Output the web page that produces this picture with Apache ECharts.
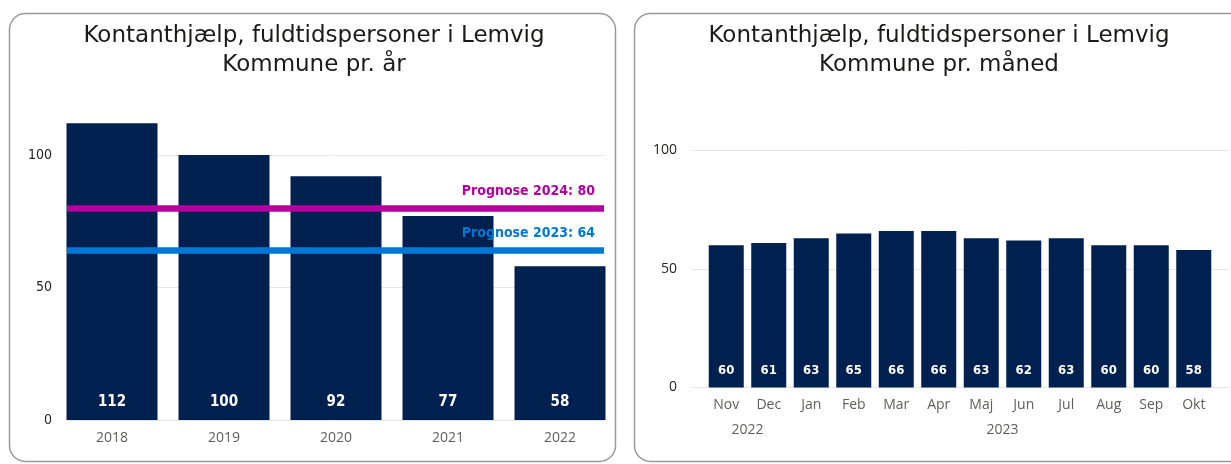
<!DOCTYPE html>
<html><head><meta charset="utf-8">
<script src="https://cdn.jsdelivr.net/npm/echarts@6/dist/echarts.min.js"></script>
<style>html,body{margin:0;padding:0;background:#fff}#c{width:1231px;height:464px}</style>
</head><body><div id="c"></div>
<script>
// ---- data ----
const yearCats = ['2018', '2019', '2020', '2021', '2022'];
const yearVals = [112, 100, 92, 77, 58];
const monthCats = ['Nov', 'Dec', 'Jan', 'Feb', 'Mar', 'Apr', 'Maj', 'Jun', 'Jul', 'Aug', 'Sep', 'Okt'];
const monthVals = [60, 61, 63, 65, 66, 66, 63, 62, 63, 60, 60, 58];
const monthYearLabels = ['2022', '2023'];
const monthYearCenters = [1, 7]; // centre of Nov–Dec and Jan–Okt (category units)
const prognoseLabels = ['Prognose 2024: 80', 'Prognose 2023: 64'];
const prognoseVals = [80, 64];
const yTicks = [0, 50, 100];
const titleLeft = 'Kontanthjælp, fuldtidspersoner i Lemvig\nKommune pr. år';
const titleRight = 'Kontanthjælp, fuldtidspersoner i Lemvig\nKommune pr. måned';

// ---- styles ----
const NAVY = '#00204F';
const MAGENTA = '#B4009E';
const BLUE = '#0078D4';
const COND = '"DejaVu Sans Condensed", "DejaVu Sans", sans-serif';
const TITLE_FONT = '"DejaVu Sans", sans-serif';
const SANS = '"Open Sans", "Noto Sans", sans-serif';
const GRID_C = '#E6E6E6';
const prognoseColors = [MAGENTA, BLUE];

const chart = echarts.init(document.getElementById('c'), null, {renderer: 'canvas'});

const yFmt = v => (yTicks.indexOf(v) >= 0 ? String(v) : '');

function bgYAxis(gridIndex) {
  return {
    type: 'value', gridIndex, min: 0, max: 120, interval: 50,
    axisLine: {show: false}, axisTick: {show: false},
    axisLabel: {formatter: yFmt, color: '#252423', fontSize: 14, fontFamily: gridIndex === 0 ? COND : SANS, margin: 15, showMaxLabel: false},
    splitLine: {show: true, lineStyle: {color: [GRID_C, GRID_C, GRID_C, 'rgba(0,0,0,0)'], width: 1}}
  };
}
function hiddenY(gridIndex) {
  return {type: 'value', gridIndex, min: 0, max: 120, interval: 50, show: false, splitLine: {show: false}};
}

const option = {
  animation: false,
  backgroundColor: '#fff',
  graphic: [
    {type: 'rect', left: 7, top: 11, shape: {width: 606, height: 448, r: 16}, style: {fill: 'none', stroke: '#9A9A9A', lineWidth: 1.5}, z: -1},
    {type: 'rect', left: 632, top: 11, shape: {width: 640, height: 448, r: 16}, style: {fill: 'none', stroke: '#9A9A9A', lineWidth: 1.5}, z: -1}
  ],
  title: [
    {text: titleLeft, left: 314, top: 22, textAlign: 'center', padding: 0,
     textStyle: {fontFamily: TITLE_FONT, fontSize: 23, fontWeight: 'normal', color: '#1B1A19', lineHeight: 29}},
    {text: titleRight, left: 939, top: 22, textAlign: 'center', padding: 0,
     textStyle: {fontFamily: TITLE_FONT, fontSize: 23, fontWeight: 'normal', color: '#1B1A19', lineHeight: 29}}
  ],
  grid: [
    {left: 67, right: 1231 - 604, top: 102, bottom: 44},    // 0: left background
    {left: 56, width: 560, top: 102, bottom: 44},           // 1: left bars
    {left: 692, right: 2, top: 103, bottom: 76.5},          // 2: right background
    {left: 705, width: 510, top: 103, bottom: 76.5}         // 3: right bars
  ],
  xAxis: [
    {type: 'value', gridIndex: 0, min: 0, max: 1, show: false},
    {type: 'category', gridIndex: 1, data: yearCats,
     axisLine: {show: false}, axisTick: {show: false},
     axisLabel: {color: '#605E5C', fontSize: 14, fontFamily: SANS, margin: 11}},
    {type: 'value', gridIndex: 2, min: 0, max: 1, show: false},
    {type: 'category', gridIndex: 3, data: monthCats,
     axisLine: {show: false}, axisTick: {show: false},
     axisLabel: {color: '#605E5C', fontSize: 14, fontFamily: SANS, margin: 11, interval: 0}},
    {type: 'value', gridIndex: 3, min: 0, max: 12, interval: 1, position: 'bottom',
     axisLine: {show: false}, axisTick: {show: false}, splitLine: {show: false},
     axisLabel: {color: '#605E5C', fontSize: 14, fontFamily: SANS, margin: 36,
       formatter: v => { const i = monthYearCenters.indexOf(v); return i >= 0 ? monthYearLabels[i] : ''; }}}
  ],
  yAxis: [bgYAxis(0), hiddenY(1), bgYAxis(2), hiddenY(3)],
  series: [
    {type: 'bar', xAxisIndex: 1, yAxisIndex: 1, data: yearVals, barWidth: 91, z: 2,
     itemStyle: {color: NAVY},
     label: {show: true, position: 'insideBottom', distance: 10, color: '#fff', fontFamily: COND, fontWeight: 'bold', fontSize: 15}},
    {type: 'bar', xAxisIndex: 3, yAxisIndex: 3, data: monthVals, barWidth: 35, z: 2,
     itemStyle: {color: NAVY},
     label: {show: true, position: 'insideBottom', distance: 10, color: '#fff', fontFamily: COND, fontWeight: 'bold', fontSize: 13}},
    {type: 'line', xAxisIndex: 0, yAxisIndex: 0, data: [], z: 5, silent: true,
     markLine: {
       silent: true, symbol: 'none', animation: false,
       data: prognoseVals.map((v, i) => ({
         yAxis: v,
         lineStyle: {color: prognoseColors[i], width: 6.5, type: 'solid'},
         label: {show: true, position: 'insideEndTop', formatter: prognoseLabels[i], color: prognoseColors[i],
                 fontFamily: COND, fontWeight: 'bold', fontSize: 14, distance: [9, 10]}
       }))
     }}
  ]
};
chart.setOption(option);
</script></body></html>
